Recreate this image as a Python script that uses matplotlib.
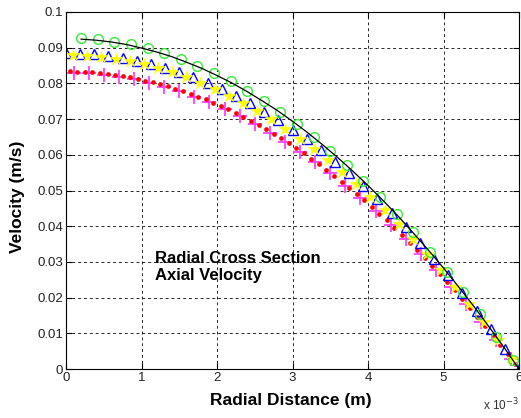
import numpy as np
import matplotlib
matplotlib.use("Agg")
import matplotlib.pyplot as plt

plt.rcParams['font.family'] = ['Liberation Sans', 'DejaVu Sans']

# radial positions are in mm (plotted as metres on a x1e-3 axis)
r_analytic = [0.2, 0.4, 0.6, 0.8, 1.0, 1.2, 1.4, 1.6, 1.8, 2.0, 2.2, 2.4, 2.6, 2.8, 3.0,
              3.2, 3.4, 3.6, 3.8, 4.0, 4.2, 4.4, 4.6, 4.8, 5.0, 5.2, 5.4, 5.6, 5.8, 6.0]
v_analytic = [0.0924, 0.0921, 0.0916, 0.0909, 0.0899, 0.0888, 0.0875, 0.0859, 0.0842, 0.0822,
              0.0801, 0.0777, 0.0751, 0.0724, 0.0694, 0.0662, 0.0628, 0.0592, 0.0554, 0.0514,
              0.0472, 0.0428, 0.0381, 0.0333, 0.0283, 0.0230, 0.0176, 0.0119, 0.0061, 0.0]

r_green = [0.20, 0.42, 0.64, 0.86, 1.08, 1.30, 1.52, 1.74, 1.96, 2.18, 2.40, 2.62, 2.84, 3.06,
           3.28, 3.50, 3.72, 3.94, 4.16, 4.38, 4.60, 4.82, 5.04, 5.26, 5.48, 5.70, 5.92]
v_green = [0.0927, 0.0923, 0.0917, 0.0909, 0.0898, 0.0884, 0.0868, 0.0850, 0.0829, 0.0806,
           0.0780, 0.0751, 0.0720, 0.0687, 0.0651, 0.0612, 0.0571, 0.0528, 0.0482, 0.0433,
           0.0383, 0.0329, 0.0273, 0.0215, 0.0154, 0.0090, 0.0025]

r_blue = [0.0, 0.1875, 0.375, 0.5625, 0.75, 0.9375, 1.125, 1.3125, 1.5, 1.6875, 1.875, 2.0625,
          2.25, 2.4375, 2.625, 2.8125, 3.0, 3.1875, 3.375, 3.5625, 3.75, 3.9375, 4.125, 4.3125,
          4.5, 4.6875, 4.875, 5.0625, 5.25, 5.4375, 5.625, 5.8125, 6.0]
v_blue = [0.0884, 0.0883, 0.0881, 0.0876, 0.0871, 0.0863, 0.0854, 0.0844, 0.0831, 0.0817,
          0.0801, 0.0784, 0.0765, 0.0744, 0.0721, 0.0697, 0.0670, 0.0643, 0.0613, 0.0581,
          0.0549, 0.0513, 0.0476, 0.0437, 0.0397, 0.0353, 0.0309, 0.0262, 0.0214, 0.0163,
          0.0111, 0.0056, 0.0]

r_yellow = [0.09375, 0.28125, 0.46875, 0.65625, 0.84375, 1.03125, 1.21875, 1.40625, 1.59375,
            1.78125, 1.96875, 2.15625, 2.34375, 2.53125, 2.71875, 2.90625, 3.09375, 3.28125,
            3.46875, 3.65625, 3.84375, 4.03125, 4.21875, 4.40625, 4.59375, 4.78125, 4.96875,
            5.15625, 5.34375, 5.53125, 5.71875, 5.90625]
v_yellow = [0.0879, 0.0877, 0.0874, 0.0868, 0.0862, 0.0853, 0.0843, 0.0831, 0.0817, 0.0802,
            0.0784, 0.0765, 0.0745, 0.0723, 0.0699, 0.0673, 0.0645, 0.0616, 0.0585, 0.0553,
            0.0518, 0.0482, 0.0444, 0.0405, 0.0364, 0.0321, 0.0276, 0.0230, 0.0182, 0.0132,
            0.0080, 0.0027]

r_red = [0.05, 0.15, 0.25, 0.35, 0.45, 0.55, 0.65, 0.75, 0.85, 0.95, 1.05, 1.15, 1.25, 1.35,
         1.45, 1.55, 1.65, 1.75, 1.85, 1.95, 2.05, 2.15, 2.25, 2.35, 2.45, 2.55, 2.65, 2.75,
         2.85, 2.95, 3.05, 3.15, 3.25, 3.35, 3.45, 3.55, 3.65, 3.75, 3.85, 3.95, 4.05, 4.15,
         4.25, 4.35, 4.45, 4.55, 4.65, 4.75, 4.85, 4.95, 5.05, 5.15, 5.25, 5.35, 5.45, 5.55,
         5.65, 5.75, 5.85, 5.95]
v_red = [0.0834, 0.0833, 0.0833, 0.0831, 0.0829, 0.0827, 0.0824, 0.0821, 0.0817, 0.0813,
         0.0808, 0.0803, 0.0798, 0.0792, 0.0785, 0.0778, 0.0771, 0.0763, 0.0755, 0.0746,
         0.0737, 0.0727, 0.0717, 0.0706, 0.0695, 0.0683, 0.0671, 0.0659, 0.0646, 0.0632,
         0.0618, 0.0604, 0.0589, 0.0574, 0.0558, 0.0542, 0.0525, 0.0508, 0.0491, 0.0473,
         0.0454, 0.0435, 0.0416, 0.0396, 0.0375, 0.0354, 0.0333, 0.0311, 0.0289, 0.0266,
         0.0243, 0.0220, 0.0195, 0.0171, 0.0146, 0.0120, 0.0094, 0.0068, 0.0041, 0.0014]

r_magenta = [0.1, 0.3, 0.5, 0.7, 0.9, 1.1, 1.3, 1.5, 1.7, 1.9, 2.1, 2.3, 2.5, 2.7, 2.9,
             3.1, 3.3, 3.5, 3.7, 3.9, 4.1, 4.3, 4.5, 4.7, 4.9, 5.1, 5.3, 5.5, 5.7, 5.9]
v_magenta = [0.0830, 0.0828, 0.0824, 0.0819, 0.0811, 0.0802, 0.0791, 0.0778, 0.0763, 0.0747,
             0.0728, 0.0708, 0.0686, 0.0662, 0.0636, 0.0608, 0.0579, 0.0548, 0.0514, 0.0479,
             0.0442, 0.0404, 0.0363, 0.0321, 0.0276, 0.0230, 0.0182, 0.0133, 0.0081, 0.0027]

fig = plt.figure(figsize=(5.21, 4.18), dpi=100)
ax = fig.add_axes([66 / 521, 49 / 418, 453 / 521, 357 / 418])

ax.plot(r_magenta, v_magenta, ls='none', marker='+', ms=10, mew=1.3, color='#ff40ff')
ax.plot(r_red, v_red, ls='none', marker='o', ms=3.4, mew=0, color='#ff0000')
ax.plot(r_blue, v_blue, ls='none', marker='^', ms=7.5, mew=1.0, mfc='none', color='#0000ff')
ax.plot(r_yellow, v_yellow, ls='none', marker='*', ms=9, mew=0.5, color='#ffff00')
ax.plot(r_green, v_green, ls='none', marker='o', ms=7, mew=1.0, mfc='none', color='#33ee33')
ax.plot(r_analytic, v_analytic, color='black', lw=0.9)

ax.set_xlim(0, 6)
ax.set_ylim(0, 0.1)
ax.set_xticks(range(7))
ax.set_yticks(np.arange(0, 0.101, 0.01))
ax.set_yticklabels(['0', '0.01', '0.02', '0.03', '0.04', '0.05', '0.06', '0.07', '0.08',
                    '0.09', '0.1'])
ax.grid(True, color='black', ls=(0, (3, 3)), lw=0.7, alpha=0.85)
ax.tick_params(direction='in', top=True, right=True, length=4, labelsize=9.5,
               labelcolor='#222222', pad=2)
for s in ax.spines.values():
    s.set_linewidth(0.8)

ax.set_xlabel('Radial Distance (m)', fontsize=12.5, fontweight='bold')
ax.set_ylabel('Velocity (m/s)', fontsize=12.5, fontweight='bold')
ax.xaxis.set_label_coords(0.4956, -0.066)
ax.yaxis.set_label_coords(-0.09, 0.482)

ax.text(1.18, 0.025, 'Radial Cross Section\nAxial Velocity', fontsize=12,
        fontweight='bold', va='baseline', linespacing=1.15)
fig.text(483 / 521, 1 - 410 / 418, r'x 10$^{-3}$', fontsize=8.5, color='#333333')

fig.savefig('out.png', dpi=100)
